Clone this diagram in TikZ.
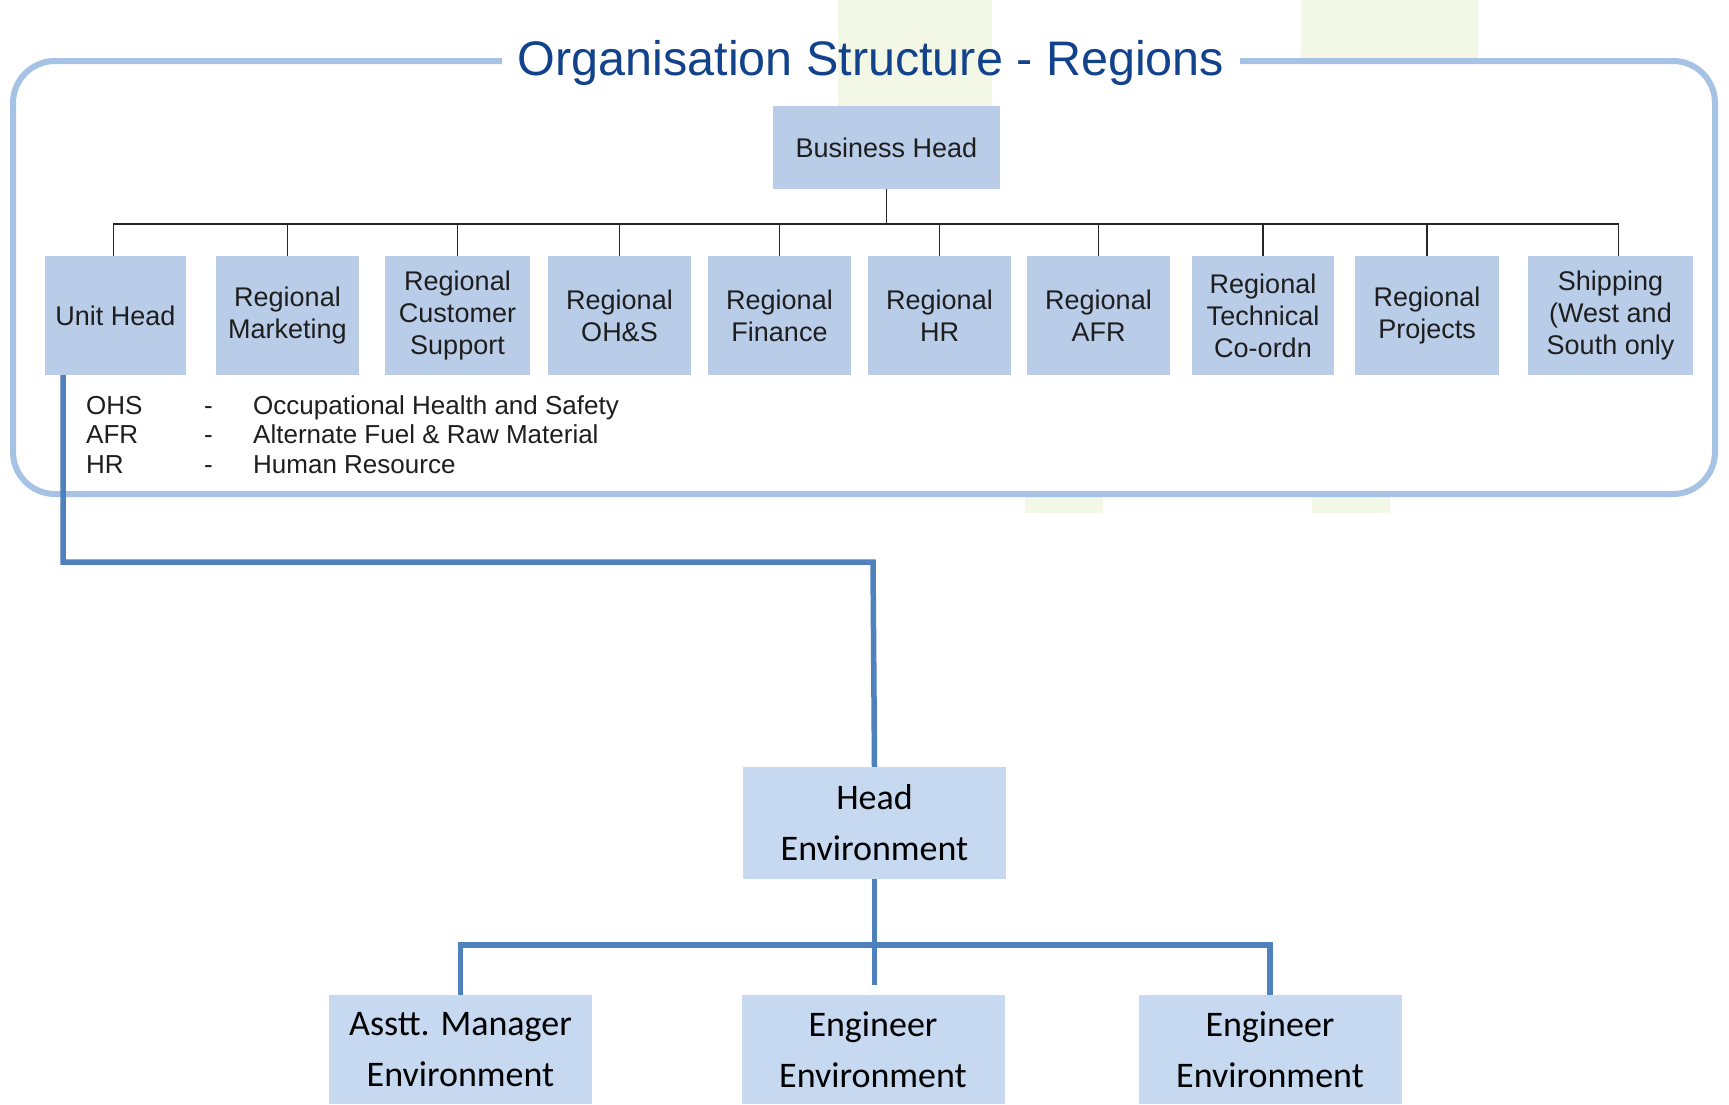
\documentclass[tikz,border=0pt]{standalone}
\usepackage{fontspec}
\setmainfont{Liberation Sans}
\newfontfamily\calib{Carlito}
\definecolor{boxfill}{RGB}{185,205,233}
\definecolor{boxfilltwo}{RGB}{198,217,240}
\definecolor{framec}{RGB}{166,194,228}
\definecolor{titlec}{RGB}{18,66,140}
\definecolor{linkc}{RGB}{79,129,189}
\definecolor{txt}{RGB}{30,30,30}
\definecolor{bgtint}{RGB}{232,240,205}
\begin{document}
\begin{tikzpicture}[x=1pt,y=-1pt,
  rbox/.style={fill=boxfill, draw=none, inner sep=0pt, align=center, text=txt,
    font=\fontsize{27}{32}\selectfont},
  ebox/.style={fill=boxfilltwo, draw=none, inner sep=0pt, align=center, text=black,
    font=\calib\fontsize{36}{51}\selectfont, minimum width=263pt},
  thinlink/.style={draw=black!85, line width=1.9pt},
  bluelink/.style={draw=linkc, line width=5.5pt},
  legend/.style={anchor=base west, inner sep=0pt, text=txt, font=\fontsize{26}{30}\selectfont},
  blob/.style={fill=bgtint, draw=none, opacity=0.5}]
\useasboundingbox (0,0) rectangle (1729,1104);
\fill[white] (0,0) rectangle (1729,1104);
% faint background blobs
\fill[blob] (838,0) rectangle (992,110);
\fill[blob] (1301,0) rectangle (1478,58);
\fill[blob] (1025,494) rectangle (1103,513);
\fill[blob] (1312,494) rectangle (1390,513);
% frame
\draw[framec, line width=6pt, rounded corners=42pt]
  (502,61) -- (13,61) -- (13,494) -- (1715,494) -- (1715,61) -- (1240,61);
% title
\node[anchor=base, inner sep=0pt, text=titlec, font=\fontsize{48.5}{56}\selectfont]
  (title) at (871,75) {Organisation Structure - Regions};
% top tree
\node[rbox, minimum width=227pt, minimum height=83pt] (bh) at (886.5,147.5) {Business Head};
\node[rbox, minimum width=141pt, minimum height=119pt] (u1) at (115.5,315.5) {Unit Head};
\node[rbox, minimum width=143pt, minimum height=119pt] (u2) at (287.5,315.5) {Regional\\Marketing};
\node[rbox, minimum width=145pt, minimum height=119pt] (u3) at (457.5,315.5) {Regional\\Customer\\Support};
\node[rbox, minimum width=143pt, minimum height=119pt] (u4) at (619.5,315.5) {Regional\\OH\&S};
\node[rbox, minimum width=143pt, minimum height=119pt] (u5) at (779.5,315.5) {Regional\\Finance};
\node[rbox, minimum width=143pt, minimum height=119pt] (u6) at (939.5,315.5) {Regional\\HR};
\node[rbox, minimum width=143pt, minimum height=119pt] (u7) at (1098.5,315.5) {Regional\\AFR};
\node[rbox, minimum width=142pt, minimum height=119pt] (u8) at (1263,315.5) {Regional\\Technical\\Co-ordn};
\node[rbox, minimum width=144pt, minimum height=119pt] (u9) at (1427,315.5) {Regional\\Projects};
\node[rbox, minimum width=165pt, minimum height=119pt] (u10) at (1610.5,315.5) {Shipping\\(West and\\South only};
\coordinate (bar) at (886.5,224);
\draw[thinlink] (bh.south) -- (bar);
\draw[thinlink] ([xshift=-2pt]u1.north) -- ([xshift=-2pt]u1.north |- bar) -- ([xshift=8pt]u10.north |- bar) -- ([xshift=8pt]u10.north);
\foreach \n in {u2,u3,u4,u5,u6,u7,u8,u9} \draw[thinlink] (\n.north) -- (\n.north |- bar);
% legend
\node[legend] (la1) at (86,414) {OHS};
\node[legend] (la2) at (86,443) {AFR};
\node[legend] (la3) at (86,473) {HR};
\node[legend] (ld1) at (204,414) {-};
\node[legend] (ld2) at (204,443) {-};
\node[legend] (ld3) at (204,473) {-};
\node[legend] (lt1) at (253,414) {Occupational Health and Safety};
\node[legend] (lt2) at (253,443) {Alternate Fuel \& Raw Material};
\node[legend] (lt3) at (253,473) {Human Resource};
% environment tree
\node[ebox, minimum height=112pt] (he) at (874.5,823) {Head\\Environment};
\node[ebox, minimum height=109pt] (b1) at (460.5,1049.5) {Asstt. Manager\\Environment};
\node[ebox, minimum height=109pt] (b2) at (873,1049.5) {Engineer\\Environment};
\node[ebox, minimum height=109pt] (b3) at (1270,1049.5) {Engineer\\Environment};
\coordinate (uhout) at ([xshift=-52.5pt]u1.south);
\coordinate (turn) at (873,562);
\draw[bluelink] (uhout) |- (turn) -- (he.north);
\coordinate (ebar) at (874.5,945);
\draw[bluelink] (he.south) -- (ebar);
\draw[bluelink] (b1.north) -- (b1.north |- ebar) -- (b3.north |- ebar) -- (b3.north);
\draw[bluelink, shorten >=10pt] (ebar) -- (ebar |- b2.north);
\end{tikzpicture}
\end{document}
